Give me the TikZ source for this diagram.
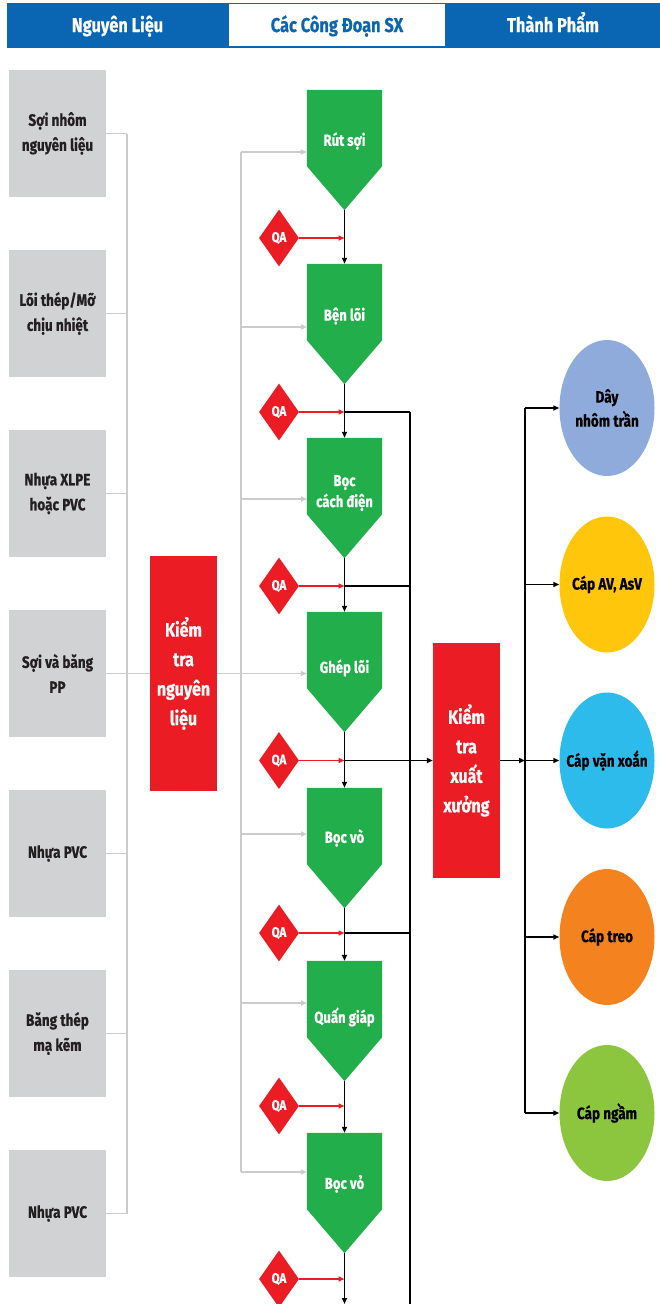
\documentclass[tikz,border=0pt]{standalone}
\usepackage{fontspec}
\newfontfamily\cf{Fira Sans}[FakeStretch=0.82, BoldFeatures={FakeBold=0.6}]
\usetikzlibrary{shapes.geometric,arrows.meta,calc}
\definecolor{hblue}{HTML}{0A66B2}
\definecolor{rawgray}{HTML}{D1D2D4}
\definecolor{linegray}{HTML}{CCCCCC}
\definecolor{stgreen}{HTML}{22AE4B}
\definecolor{qred}{HTML}{EC1C24}
\definecolor{txtblack}{HTML}{231F20}
\definecolor{pblue}{HTML}{8EABDB}
\definecolor{pyellow}{HTML}{FFC60B}
\definecolor{pcyan}{HTML}{2DBBEC}
\definecolor{porange}{HTML}{F4821F}
\definecolor{pgreen}{HTML}{8CC63F}
\begin{document}
\begin{tikzpicture}[x=1pt,y=-1pt,
  hdr/.style={font=\cf\bfseries\fontsize{20}{22}\selectfont, text=white, inner sep=0, anchor=base},
  rawbox/.style={fill=rawgray, minimum width=97pt, minimum height=127pt, inner sep=0, align=center,
    text=txtblack, font=\cf\bfseries\fontsize{16.5}{25}\selectfont},
  checkbox/.style={fill=qred, minimum width=67pt, minimum height=235pt, inner sep=0, align=center,
    text=white, font=\cf\bfseries\fontsize{19.5}{29.5}\selectfont},
  stagebox/.style={minimum width=75pt, minimum height=120pt, inner sep=0},
  stagetext/.style={text=white, align=center, inner sep=0, font=\cf\bfseries\fontsize{16}{21}\selectfont},
  qa/.style={diamond, fill=qred, minimum width=40pt, minimum height=57pt, inner sep=0, text=white,
    font=\cf\bfseries\fontsize{14}{16}\selectfont},
  product/.style={ellipse, minimum width=95pt, minimum height=136pt, inner sep=0},
  ptext/.style={align=center, inner sep=0, text=black, font=\cf\bfseries\fontsize{16.5}{24}\selectfont},
  gline/.style={draw=linegray, line width=1.6pt},
  garrow/.style={gline, -{Triangle[length=6pt,width=5pt]}},
  bline/.style={draw=black, line width=1.8pt},
  barrow/.style={bline, -{Triangle[length=6pt,width=5pt]}},
  rarrow/.style={draw=qred, line width=1.6pt, -{Triangle[length=6pt,width=5pt]}}
]
\useasboundingbox (0,0) rectangle (660,1304);
% header
\fill[hblue] (7,2.5) rectangle (660,47.5);
\fill[white] (229,4) rectangle (445,46);
\node[hdr] (h1) at (117.5,32) {Nguyên Liệu};
\node[hdr, text=hblue] (h2) at (337,32) {Các Công Đoạn SX};
\node[hdr] (h3) at (553,32) {Thành Phẩm};

% raw materials
\node[rawbox] (r1) at (57.5,133.5) {Sợi nhôm\\nguyên liệu};
\node[rawbox] (r2) at (57.5,313.5) {Lõi thép/Mỡ\\chịu nhiệt};
\node[rawbox] (r3) at (57.5,493.5) {Nhựa XLPE\\hoặc PVC};
\node[rawbox] (r4) at (57.5,673.5) {Sợi và băng\\PP};
\node[rawbox] (r5) at (57.5,853.5) {Nhựa PVC};
\node[rawbox] (r6) at (57.5,1033.5) {Băng thép\\mạ kẽm};
\node[rawbox] (r7) at (57.5,1213.5) {Nhựa PVC};

\node[checkbox] (k1) at (183.5,673.5) {Kiểm\\tra\\nguyên\\liệu};
\node[checkbox] (k2) at (466.5,760.5) {Kiểm\\tra\\xuất\\xưởng};

% stages (bounding nodes)
\node[stagebox] (s1) at (344.5,150) {};
\node[stagebox] (s2) at (344.5,324) {};
\node[stagebox] (s3) at (344.5,498) {};
\node[stagebox] (s4) at (344.5,672) {};
\node[stagebox] (s5) at (344.5,848) {};
\node[stagebox] (s6) at (344.5,1021) {};
\node[stagebox] (s7) at (344.5,1193) {};
\foreach \s in {s1,s2,s3,s4,s5,s6,s7}{
  \fill[stgreen] (\s.north west) -- (\s.north east) -- ([yshift=44pt]\s.south east)
    -- (\s.south) -- ([yshift=44pt]\s.south west) -- cycle;
}
\node[stagetext] (t1) at (344.5,141) {Rút sợi};
\node[stagetext] (t2) at (344.5,316) {Bện lõi};
\node[stagetext] (t3) at (344.5,493) {Bọc\\cách điện};
\node[stagetext] (t4) at (344.5,668) {Ghép lõi};
\node[stagetext] (t5) at (344.5,838) {Bọc vò};
\node[stagetext] (t6) at (344.5,1017) {Quấn giáp};
\node[stagetext] (t7) at (344.5,1184) {Bọc vỏ};

% QA diamonds
\node[qa] (q1) at (279,238) {QA};
\node[qa] (q2) at (279,412) {QA};
\node[qa] (q3) at (279,586) {QA};
\node[qa] (q4) at (279,760.5) {QA};
\node[qa] (q5) at (279,933) {QA};
\node[qa] (q6) at (279,1106) {QA};
\node[qa] (q7) at (279,1279) {QA};

% products
\node[product, fill=pblue] (p1) at (607,408) {};
\node[product, fill=pyellow] (p2) at (607,584.5) {};
\node[product, fill=pcyan] (p3) at (607,760.5) {};
\node[product, fill=porange] (p4) at (607,937) {};
\node[product, fill=pgreen] (p5) at (607,1113) {};
\node[ptext] (pt1) at (p1) {Dây\\nhôm trần};
\node[ptext] (pt2) at (p2) {Cáp AV, AsV};
\node[ptext] (pt3) at (p3) {Cáp vặn xoắn};
\node[ptext] (pt4) at (p4) {Cáp treo};
\node[ptext] (pt5) at (p5) {Cáp ngầm};

% gray connections (raw materials)
\coordinate (gb1) at (127,133.5);
\coordinate (gb7) at (127,1213.5);
\draw[gline] (gb1) -- (gb7);
\foreach \r in {r1,r2,r3,r4,r5,r6,r7}{
  \draw[gline] (\r.east) -- (\r.east -| gb1);
}
\draw[gline] (r4.east -| gb1) -- (k1.west);
\coordinate (ga1) at (241,152);
\coordinate (ga7) at (241,1172);
\draw[gline] (ga1) -- (ga7);
\draw[garrow] (k1.east) -- (k1.east -| s4.west);
\draw[garrow] (ga1) -- (ga1 -| s1.west);
\draw[garrow] (241,327) -- (307,327);
\draw[garrow] (241,499) -- (307,499);
\draw[garrow] (241,834) -- (307,834);
\draw[garrow] (241,1003) -- (307,1003);
\draw[garrow] (ga7) -- (ga7 -| s7.west);

% black flow
\draw[barrow] (s1.south) -- (s2.north);
\draw[barrow] (s2.south) -- (s3.north);
\draw[barrow] (s3.south) -- (s4.north);
\draw[barrow] (s4.south) -- (s5.north);
\draw[barrow] (s5.south) -- (s6.north);
\draw[barrow] (s6.south) -- (s7.north);
\coordinate (endc) at (344.5,1304);
\draw[barrow] (s7.south) -- (endc);

% red QA arrows
\foreach \q/\s in {q1/s1,q2/s2,q3/s3,q4/s4,q5/s5,q6/s6,q7/s7}{
  \draw[rarrow] (\q.east) -- (\q.east -| \s.south);
}

% collection bus to final check
\coordinate (bt) at (410,412);
\coordinate (bb) at (410,1304);
\draw[bline] (bt) -- (bb);
\draw[bline] (q2.east -| s2.south) -- (q2.east -| bt);
\draw[bline] (q3.east -| s3.south) -- (q3.east -| bt);
\draw[bline] (q5.east -| s5.south) -- (q5.east -| bt);
\draw[barrow] (q4.east -| s4.south) -- (q4.east -| k2.west);

% distribution to products
\coordinate (pt) at (525,408);
\coordinate (pb) at (525,1113);
\draw[bline] (pt) -- (pb);
\draw[barrow] (k2.east |- p3.west) -- (p3.west -| pt);
\foreach \p in {p1,p2,p3,p4,p5}{
  \draw[barrow] (\p.west -| pt) -- (\p.west);
}
\end{tikzpicture}
\end{document}
